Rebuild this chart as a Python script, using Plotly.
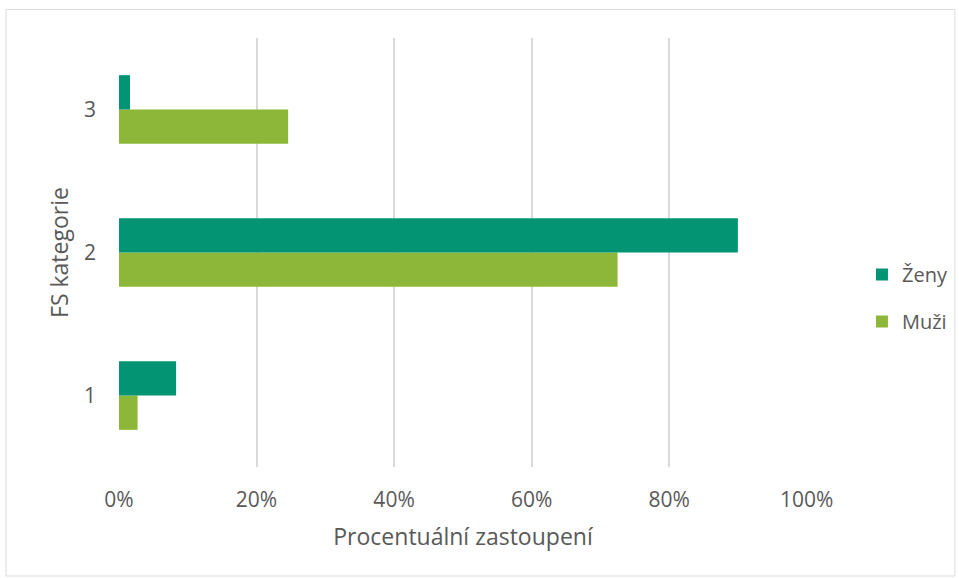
import plotly.graph_objects as go

categories = ["1", "2", "3"]
zeny = [0.083, 0.900, 0.016]
muzi = [0.027, 0.725, 0.246]
series_names = ["Ženy", "Muži"]
x_ticks = [0, 0.2, 0.4, 0.6, 0.8, 1.0]
x_ticklabels = ["0%", "20%", "40%", "60%", "80%", "100%"]

FONT = "Open Sans"
GREY = "#595959"

fig = go.Figure()
fig.add_trace(go.Bar(y=categories, x=muzi, name=series_names[1], orientation="h",
                     marker=dict(color="#8CB739", line=dict(width=0)),
                     legendgroup="m", legendrank=2))
fig.add_trace(go.Bar(y=categories, x=zeny, name=series_names[0], orientation="h",
                     marker=dict(color="#039474", line=dict(width=0)),
                     legendgroup="z", legendrank=1))

L, R, T, B = 118.5, 152, 38, 111
W, H = 959, 578
pw, ph = W - L - R, H - T - B

def px_to_paper_x(px):
    return (px - L) / pw

def px_to_paper_y(py):
    return (H - B - py) / ph

fig.update_layout(
    width=W, height=H,
    margin=dict(l=L, r=R, t=T, b=B, autoexpand=False),
    paper_bgcolor="white", plot_bgcolor="white",
    barmode="group", bargap=0.52, bargroupgap=0,
    font=dict(family=FONT, color=GREY),
    legend=dict(x=px_to_paper_x(862), y=px_to_paper_y(298), xanchor="left", yanchor="middle",
                traceorder="grouped", tracegroupgap=18,
                font=dict(size=20, color=GREY, family=FONT), bgcolor="rgba(0,0,0,0)"),
    xaxis=dict(range=[0, 1.0005], tickvals=x_ticks, ticktext=x_ticklabels, automargin=False,
               showgrid=True, gridcolor="#D9D9D9", gridwidth=2,
               zeroline=False, showline=False,
               tickfont=dict(size=21, color=GREY, family=FONT), ticklabelstandoff=18,
               title=dict(text="Procentuální zastoupení", font=dict(size=23, color=GREY, family=FONT), standoff=16)),
    yaxis=dict(type="category", range=[-0.5, 2.5], showgrid=False, zeroline=False, showline=False,
               automargin=False,
               tickfont=dict(size=21, color=GREY, family=FONT), ticklabelstandoff=22,
               title=dict(text="FS kategorie", font=dict(size=23, color=GREY, family=FONT), standoff=8)),
    shapes=[dict(type="rect", xref="paper", yref="paper",
                 x0=px_to_paper_x(5.5), x1=px_to_paper_x(955), y0=px_to_paper_y(576), y1=px_to_paper_y(9.5),
                 line=dict(color="#D9D9D9", width=1), fillcolor="rgba(0,0,0,0)", layer="below")],
)

fig.write_html("out.html", config={"displayModeBar": False},
               post_script="document.body.style.margin='0';document.body.style.overflow='hidden';")
